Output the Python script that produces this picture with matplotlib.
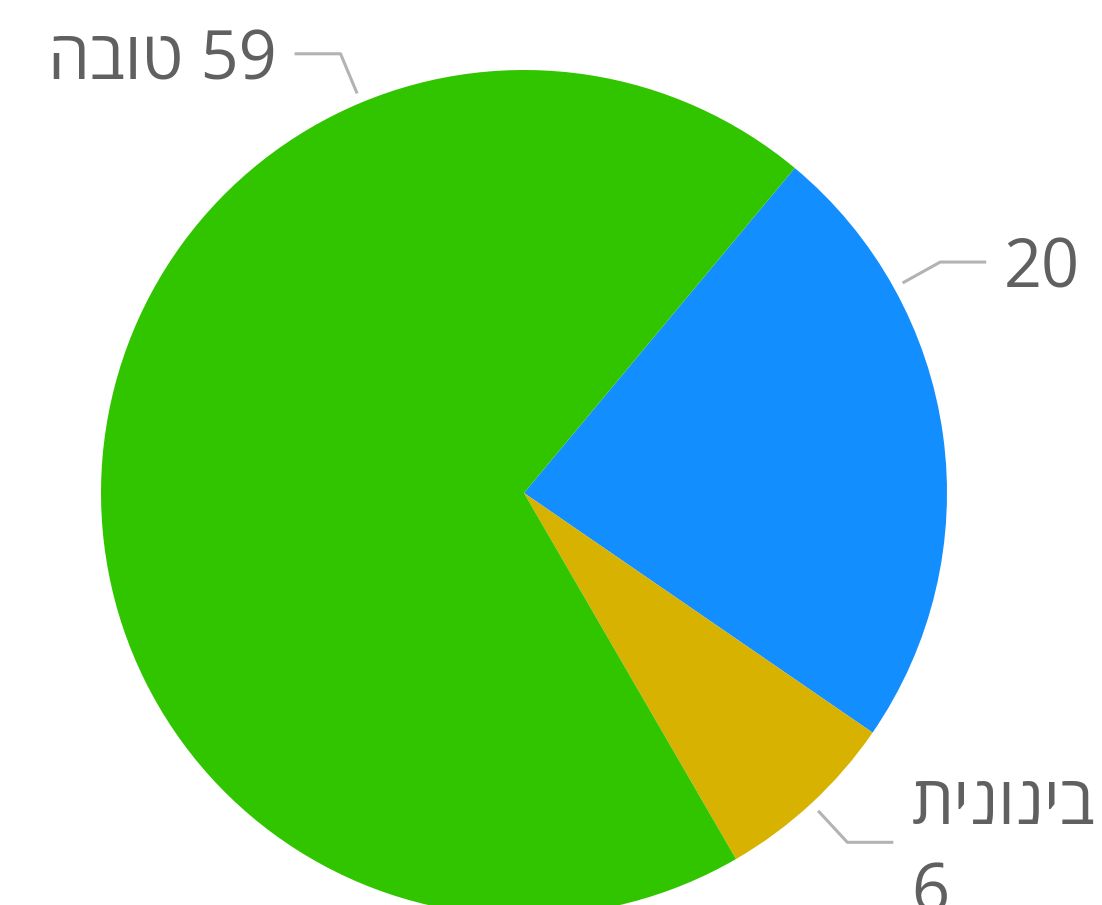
# pie chart of ratings
import numpy as np
import matplotlib
matplotlib.use('Agg')
import matplotlib.pyplot as plt

plt.rcParams['font.family'] = ['Open Sans', 'DejaVu Sans']

# data (clockwise from the top-right)
names = ['', 'בינונית', 'טובה']
values = [20, 6, 59]
colors = ['#138EFF', '#D8B200', '#31C500']

# figure in pixel units
W, H = 1102, 905
fig = plt.figure(figsize=(W / 100, H / 100), dpi=100)
ax = fig.add_axes([0, 0, 1, 1])

cx, cy, R = 524, H - 493, 423
start = 50.2
ax.pie(values, colors=colors, center=(cx, cy), radius=R, startangle=start,
       counterclock=False, wedgeprops=dict(linewidth=0))
ax.set_xlim(0, W)
ax.set_ylim(0, H)
ax.set_aspect('equal')
ax.axis('off')

# where the leader lines touch each slice, as a fraction of the slice
anchor = [0.25, 0.5, 0.75]
textcol = '#606060'
linecol = '#B3B3B3'

theta = start
for name, v, f in zip(names, values, anchor):
    span = 360.0 * v / sum(values)
    a = np.deg2rad(theta - span * f)
    theta -= span
    x0, y0 = cx + (R + 10) * np.cos(a), cy + (R + 10) * np.sin(a)
    x1, y1 = cx + (R + 53) * np.cos(a), cy + (R + 53) * np.sin(a)
    side = 1 if np.cos(a) > 0 else -1
    x2 = x1 + side * 46
    ax.plot([x0, x1, x2], [y0, y1, y1], color=linecol, lw=2.2,
            solid_capstyle='butt', clip_on=False)
    heb = name[::-1]
    if side < 0:
        label = heb + ' ' + str(v)
    elif name:
        label = heb + '\n' + str(v)
    else:
        label = str(v)
    ax.text(x2 + side * 18, y1 - 8, label, ha='left' if side > 0 else 'right',
            va='center', fontsize=48, color=textcol, linespacing=1.4)

fig.savefig('out.png', dpi=100)
